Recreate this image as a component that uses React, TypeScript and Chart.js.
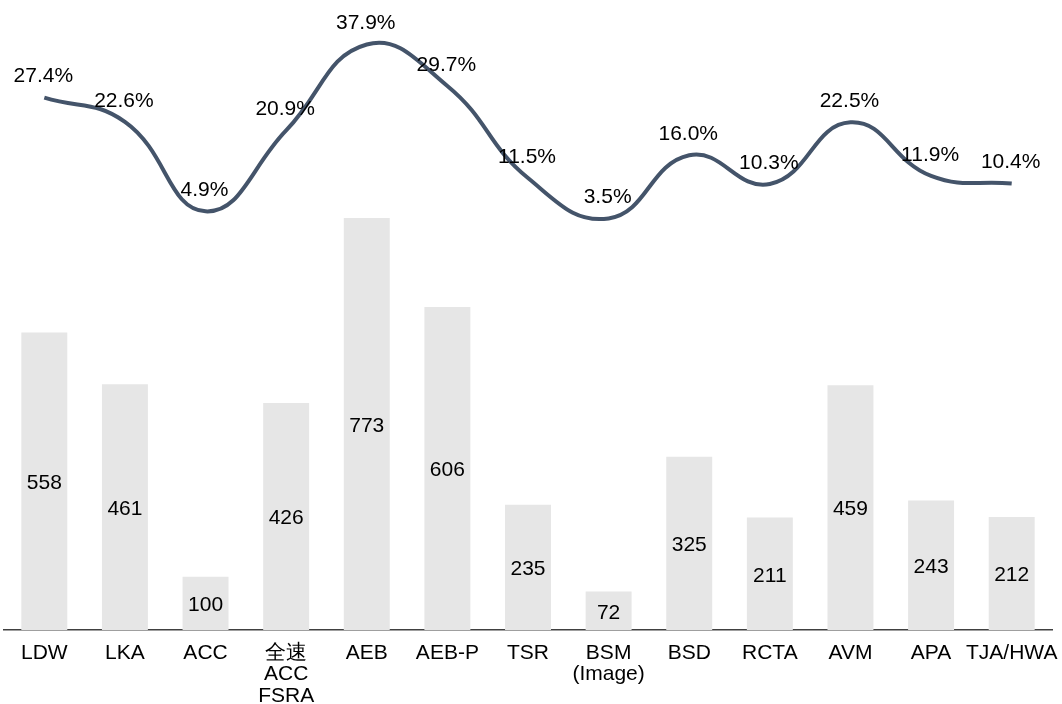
import React, { useEffect, useRef } from "react";
import { Chart, registerables } from "chart.js";

Chart.register(...registerables);

const categories: (string | string[])[] = [
  "LDW", "LKA", "ACC", ["全速", "ACC", "FSRA"], "AEB", "AEB-P", "TSR",
  ["BSM", "(Image)"], "BSD", "RCTA", "AVM", "APA", "TJA/HWA",
];
const barValues = [558, 461, 100, 426, 773, 606, 235, 72, 325, 211, 459, 243, 212];
const ratioValues = [27.4, 22.6, 4.9, 20.9, 37.9, 29.7, 11.5, 3.5, 16.0, 10.3, 22.5, 11.9, 10.4];

const FONT = "'Liberation Sans', Arial, sans-serif";

const labelPlugin = {
  id: "valueLabels",
  afterDatasetsDraw(chart: any) {
    const ctx = chart.ctx;
    ctx.save();
    ctx.font = `21px ${FONT}`;
    ctx.fillStyle = "#000000";
    ctx.textAlign = "center";
    ctx.textBaseline = "middle";
    const barMeta = chart.getDatasetMeta(0);
    barMeta.data.forEach((el: any, i: number) => {
      const mid = (el.y + el.base) / 2 + 2;
      ctx.fillText(String(barValues[i]), el.x, mid);
    });
    const lineMeta = chart.getDatasetMeta(1);
    lineMeta.data.forEach((el: any, i: number) => {
      ctx.fillText(ratioValues[i].toFixed(1) + "%", el.x - 1, el.y - 21);
    });
    ctx.restore();
  },
};

export default function App() {
  const ref = useRef<HTMLCanvasElement | null>(null);
  useEffect(() => {
    if (!ref.current) return;
    const chart = new Chart(ref.current, {
      type: "bar",
      data: {
        labels: categories,
        datasets: [
          {
            type: "bar",
            data: barValues,
            backgroundColor: "#e6e6e6",
            borderWidth: 0,
            barPercentage: 0.57,
            categoryPercentage: 1,
            yAxisID: "y",
            order: 2,
          },
          {
            type: "line",
            data: ratioValues,
            borderColor: "#44546a",
            borderWidth: 4,
            pointRadius: 0,
            tension: 0.45,
            fill: false,
            yAxisID: "y2",
            order: 1,
          } as any,
        ],
      },
      options: {
        animation: false,
        responsive: false,
        maintainAspectRatio: false,
        layout: { padding: { left: 4, right: 10, top: 0, bottom: 0 } },
        plugins: { legend: { display: false }, tooltip: { enabled: false } },
        scales: {
          x: {
            grid: { display: false, drawTicks: false },
            border: { display: true, color: "#404040", width: 1.5 },
            ticks: {
              color: "#000000",
              font: { family: FONT, size: 21, lineHeight: 1.03 },
              padding: 12,
              maxRotation: 0,
              autoSkip: false,
            },
            afterFit: (scale: any) => {
              scale.height = 74;
              scale.paddingLeft = 0;
              scale.paddingRight = 0;
            },
          },
          y: { display: false, min: 0, max: 1182 },
          y2: { display: false, min: -77.9, max: 46.7 },
        },
      },
      plugins: [labelPlugin],
    });
    return () => chart.destroy();
  }, []);
  return (
    <div style={{ position: "absolute", left: 0, top: 0, width: 1062, height: 704, background: "#fff" }}>
      <canvas ref={ref} width={1062} height={704} />
    </div>
  );
}
